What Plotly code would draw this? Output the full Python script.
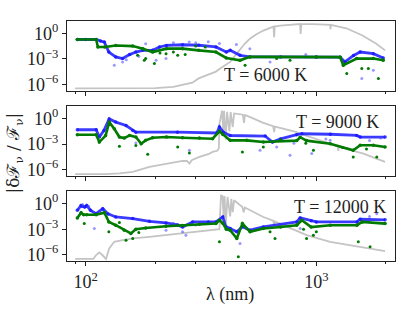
import numpy as np
import plotly.graph_objects as go

# ---------------- data (wavelength in nm, values as log10 of |dF/F|) ----------------
temps = ["T = 6000 K", "T = 9000 K", "T = 12000 K"]

# Panel T = 6000 K
gray6_x = [90, 150, 200, 240, 263, 290, 309, 330, 350, 367, 380, 393, 410, 423, 445, 467, 490, 515, 550, 589, 640,
           652, 656, 660, 697, 760, 822, 850, 855, 860, 968, 1100, 1148, 1152, 1156, 1349, 1585, 1820, 1986]
gray6_y = [-6.47, -6.47, -6.45, -6.3, -6.08, -5.8, -5.3, -5.0, -4.7, -4.5, -4.2, -3.9, -3.6, -3.36, -2.6, -1.8, -1.2,
           -0.64, -0.1, 0.33, 0.7, 0.8, -0.44, 0.8, 0.91, 1.0, 1.1, 1.1, -0.06, 1.1, 1.1, 1.02, 1.0, 0.5, 1.0, 0.6,
           -0.25, -1.22, -2.0]
blue6_x = [92, 100, 111, 116, 120.5, 126, 135, 144.5, 155, 165, 177, 195, 209, 224, 263, 309, 367, 407, 423, 467,
           515, 700, 1000, 1268, 1330, 1450, 1549, 1766, 1950]
blue6_y = [-0.72, -0.72, -0.72, -0.9, -1.03, -2.2, -2.77, -2.97, -2.5, -2.2, -2.0, -2.0, -1.6, -1.42, -1.34, -1.4,
           -1.6, -2.2, -2.0, -2.58, -2.77, -2.77, -2.77, -2.8, -3.36, -2.6, -2.2, -2.39, -2.9]
green6_x = [92, 111, 113, 121, 135, 160, 177, 195, 224, 263, 309, 367, 407, 467, 515, 1000, 1268, 1309, 1496, 1766,
            1950]
green6_y = [-0.72, -0.72, -1.6, -1.6, -1.42, -1.5, -1.8, -2.2, -1.8, -1.8, -2.0, -2.2, -2.9, -3.17, -2.77, -2.77,
            -2.8, -3.75, -2.97, -2.97, -3.17]
blue6_ox = [133, 144.5, 182, 202, 223, 281, 1574, 1766, 630, 515, 150, 170, 240, 300, 340, 380, 450, 900]
blue6_oy = [-3.75, -3.36, -1.22, -3.17, -2.97, -1.03, -5.3, -4.33, -3.36, -1.8, -3.1, -2.7, -1.1, -1.1, -1.0, -1.2,
            -1.3, -2.5]
green6_ox = [179.5, 182, 198.5, 223, 250.6, 168, 491, 769, 1574, 1680, 1858, 1355, 673, 240, 270, 300, 330, 210]
green6_oy = [-3.17, -2.97, -3.56, -2.39, -2.59, -2.59, -3.75, -3.17, -4.14, -4.14, -5.3, -4.72, -2.97, -2.2, -2.5,
             -1.5, -1.6, -2.3]

# Panel T = 9000 K
gray9_x = [90, 122, 140, 160, 189, 223, 263, 275, 282, 288, 311, 340, 355, 372, 378, 380, 386, 390, 395, 398, 405,
           410, 420, 425, 434, 440, 480, 486, 490, 499, 589, 650, 656, 662, 822, 851, 1148, 1240, 1245, 1250, 1600,
           1986]
gray9_y = [-6.55, -6.55, -6.45, -6.27, -5.68, -5.3, -4.98, -5.0, -5.3, -4.9, -4.52, -4.2, -3.93, -3.8, -3.5, -0.62,
           0.5, 0.94, -1.5, 0.9, -2.5, 0.8, -1.5, 0.75, -1.0, 0.6, 0.45, -0.5, 0.4, 0.35, -0.5, -0.9, -1.6, -0.95,
           -1.6, -1.79, -2.96, -3.3, -3.8, -3.35, -4.13, -5.1]
blue9_x = [92, 111, 114.6, 120, 126.5, 135, 149.6, 160, 165, 250, 370, 380, 395, 423, 600, 645, 700, 822, 865, 1150,
           1496, 1549, 1986]
blue9_y = [-1.32, -1.32, -2.18, -1.4, -0.04, -0.42, -0.82, -1.4, -1.6, -1.6, -1.7, -1.0, -1.6, -2.0, -2.06, -2.77,
           -2.4, -1.9, -1.79, -1.85, -1.99, -2.18, -2.18]
green9_x = [92, 111, 114.6, 122, 126.5, 133, 140, 147, 155, 165, 174, 182, 195, 224, 263, 311, 355, 380, 393, 423,
            499, 589, 822, 851, 907, 1148, 1445, 1549, 1766, 1986]
green9_y = [-1.91, -1.91, -2.77, -2.0, -0.42, -1.2, -2.18, -2.3, -1.99, -2.18, -2.96, -2.57, -2.26, -2.18, -2.26,
            -2.3, -2.37, -1.5, -1.87, -2.57, -2.57, -2.77, -2.6, -2.2, -2.6, -2.96, -3.74, -3.15, -3.15, -3.35]
blue9_ox = [281.6, 165, 122.5, 570, 955, 673, 769, 1148, 800, 1100, 1700, 1900]
blue9_oy = [-3.74, -2.88, -1.2, -3.74, -4.13, -3.35, -4.33, -2.57, -2.9, -2.4, -2.6, -2.3]
green9_ox = [140, 185.7, 165, 250.6, 281.6, 478, 1445, 1828, 589, 971, 1300, 1650, 700, 900]
green9_oy = [-3.27, -4.21, -3.16, -3.35, -4.05, -3.93, -4.52, -4.52, -3.35, -3.74, -3.4, -3.6, -2.5, -2.9]

# Panel T = 12000 K
gray12_x = [90, 108, 111, 114.6, 118, 122.5, 126.5, 133, 144.5, 160, 189, 223, 263, 311, 367, 380, 386, 392, 396,
            400, 405, 412, 423, 428, 434, 440, 478, 484, 490, 589, 650, 656, 662, 720, 908, 1148, 1600, 1986]
gray12_y = [-6.5, -6.5, -6.04, -5.73, -6.04, -6.5, -5.26, -4.48, -4.29, -4.09, -3.9, -3.7, -3.5, -3.31, -3.12, -3.0,
            0.97, 0.9, -1.5, 0.9, -2.5, 0.8, -1.5, 0.58, -1.0, 0.4, -0.39, -1.0, -0.45, -1.56, -2.0, -2.6, -2.1,
            -2.53, -3.7, -4.48, -5.18, -5.58]
blue12_x = [92, 95.5, 99, 101, 105, 111, 118.6, 125, 135, 160, 189, 223, 250, 263, 291, 340, 367, 393, 405, 423, 452,
            478, 516, 589, 822, 851, 950, 1000, 1500, 1549, 1986]
blue12_y = [-0.78, -0.2, -0.4, -0.2, -0.78, -1.17, -0.58, -1.2, -1.56, -1.75, -2.07, -2.26, -2.5, -2.73, -2.14,
            -2.14, -2.14, -1.56, -2.7, -2.92, -3.31, -2.7, -3.12, -2.73, -2.14, -1.67, -2.0, -2.14, -2.14, -1.83, -1.9]
green12_x = [92, 95.5, 98, 101, 111, 120.5, 126, 135, 147, 157, 165, 182, 223, 263, 311, 367, 380, 393, 407, 423,
             452, 478, 516, 589, 700, 822, 865, 950, 1148, 1500, 1580, 1986]
green12_y = [-1.68, -1.05, -1.29, -1.29, -1.3, -1.05, -2.14, -2.53, -3.12, -3.5, -3.0, -2.85, -2.65, -2.55, -2.42,
             -2.34, -1.95, -2.3, -3.0, -3.12, -4.09, -2.34, -3.3, -2.92, -2.75, -2.53, -1.95, -2.75, -2.53, -2.53,
             -2.14, -2.34]
blue12_ox = [109, 223, 263, 272, 467, 851, 1600, 1828, 97, 103, 240, 300, 1700]
blue12_oy = [-2.92, -3.12, -3.31, -3.7, -4.68, -2.92, -0.97, -1.17, -0.1, -0.3, -2.3, -2.5, -1.5]
green12_ox = [98.6, 126, 149.6, 380, 160, 459, 662, 907, 971, 1710, 1520, 630, 140, 170, 880, 1000]
green12_oy = [-2.34, -3.31, -4.29, -4.48, -4.09, -6.24, -4.09, -4.09, -3.7, -5.07, -4.48, -3.31, -2.2, -3.4, -3.0,
              -3.3]

panels = [
    (gray6_x, gray6_y, blue6_x, blue6_y, green6_x, green6_y, blue6_ox, blue6_oy, green6_ox, green6_oy),
    (gray9_x, gray9_y, blue9_x, blue9_y, green9_x, green9_y, blue9_ox, blue9_oy, green9_ox, green9_oy),
    (gray12_x, gray12_y, blue12_x, blue12_y, green12_x, green12_y, blue12_ox, blue12_oy, green12_ox, green12_oy),
]

y_ticks = [1, 1e-3, 1e-6]
y_ticktext = ["10<sup>0</sup>", "10<sup>−3</sup>", "10<sup>−6</sup>"]
x_ticks = [100, 1000]
x_ticktext = ["10<sup>2</sup>", "10<sup>3</sup>"]
x_minor = [90, 200, 300, 400, 500, 600, 700, 800, 900, 2000]

# ---------------- figure ----------------
W, H = 415, 313
FONT = "Liberation Serif"
FS = 18
fig = go.Figure()

boxes = [(21, 92), (107, 178), (193, 264)]
xl, xr = 67, 395

blue_c = "rgba(25,25,255,0.85)"
blue_o = "rgba(70,70,255,0.55)"
green_c = "#007a00"

for i, (gx, gy, bx, by, grx, gry, box, boy, gox, goy) in enumerate(panels):
    xa = "x" if i == 0 else f"x{i+1}"
    ya = "y" if i == 0 else f"y{i+1}"
    fig.add_trace(go.Scatter(x=gx, y=np.power(10.0, gy), mode="lines",
                             line=dict(color="#c4c4c4", width=1.8), xaxis=xa, yaxis=ya, showlegend=False))
    fig.add_trace(go.Scatter(x=bx, y=np.power(10.0, by), mode="lines+markers",
                             line=dict(color=blue_c, width=2.8), marker=dict(size=3.5, color=blue_c),
                             xaxis=xa, yaxis=ya, showlegend=False))
    fig.add_trace(go.Scatter(x=box, y=np.power(10.0, boy), mode="markers",
                             marker=dict(size=3, color=blue_o), xaxis=xa, yaxis=ya, showlegend=False))
    fig.add_trace(go.Scatter(x=grx, y=np.power(10.0, gry), mode="lines+markers",
                             line=dict(color=green_c, width=2.6), marker=dict(size=3.5, color=green_c),
                             xaxis=xa, yaxis=ya, showlegend=False))
    fig.add_trace(go.Scatter(x=gox, y=np.power(10.0, goy), mode="markers",
                             marker=dict(size=3, color=green_c), xaxis=xa, yaxis=ya, showlegend=False))

    top, bot = boxes[i]
    xkey = "xaxis" if i == 0 else f"xaxis{i+1}"
    ykey = "yaxis" if i == 0 else f"yaxis{i+1}"
    fig.layout[xkey] = dict(
        type="log", range=[1.919, 3.341], domain=[xl / W, xr / W], anchor=ya,
        showgrid=False, zeroline=False, showline=True, mirror=True, linecolor="#222", linewidth=1,
        ticks="outside", ticklen=4, tickwidth=1, tickcolor="#222",
        tickvals=x_ticks, ticktext=x_ticktext,
        showticklabels=(i == 2),
        minor=dict(tickvals=x_minor, ticks="outside", ticklen=2, tickwidth=0.8, tickcolor="#222"),
        tickfont=dict(family=FONT, size=FS, color="#222"),
    )
    fig.layout[ykey] = dict(
        type="log", range=[-6.8, 1.48], domain=[1 - bot / H, 1 - top / H], anchor=xa,
        showgrid=False, zeroline=False, showline=True, mirror=True, linecolor="#222", linewidth=1,
        ticks="outside", ticklen=4, tickwidth=1, tickcolor="#222",
        tickvals=y_ticks, ticktext=y_ticktext,
        tickfont=dict(family=FONT, size=FS, color="#222"),
    )

ann_pos = [(265, 75.5), (337, 123.5), (340, 209.5)]
for t, (px, py) in zip(temps, ann_pos):
    fig.add_annotation(text=t, x=px / W, y=1 - py / H, xref="paper", yref="paper",
                       xanchor="center", yanchor="middle",
                       showarrow=False, font=dict(family=FONT, size=FS, color="#222"))

fig.add_annotation(text="|δℱ<sub>ν</sub> / ℱ<sub>ν</sub>|", x=15 / W, y=1 - 155 / H, xref="paper", yref="paper",
                   xanchor="center", yanchor="middle",
                   textangle=-90, showarrow=False, font=dict(family="DejaVu Serif", size=17, color="#222"))
fig.add_annotation(text="λ (nm)", x=230 / W, y=1 - 297 / H, xref="paper", yref="paper",
                   xanchor="center", yanchor="middle",
                   showarrow=False, font=dict(family=FONT, size=FS, color="#222"))

fig.update_layout(width=W, height=H, margin=dict(l=0, r=0, t=0, b=0),
                  paper_bgcolor="white", plot_bgcolor="white")

fig.write_html("out.html", config={"displayModeBar": False},
               post_script="document.body.style.margin='0';document.body.style.padding='0';")
